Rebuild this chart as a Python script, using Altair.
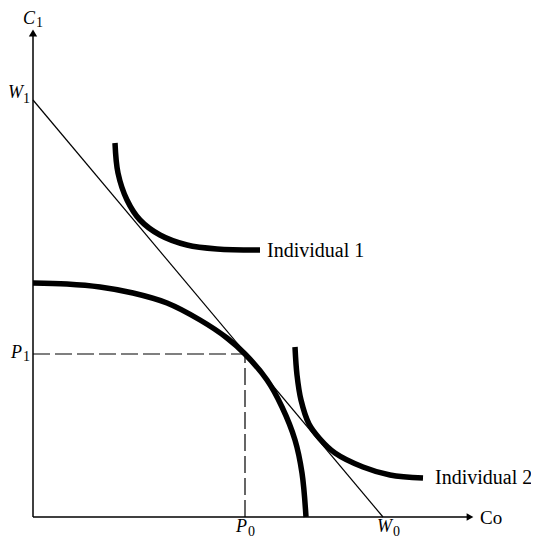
import altair as alt
import pandas as pd

# ---- data (units: x = C0, y = C1, origin at axis intersection) ----
ppf_x = [0, 34, 67, 100, 134, 167, 194, 212, 234, 249, 262, 269, 273]
ppf_y = [234, 233, 230, 224, 214, 197, 179, 163, 137, 110, 77, 44, 0]

ind1_x = [82, 85, 94, 107, 127, 154, 184, 227]
ind1_y = [374, 344, 317, 297, 282, 272, 268, 267]

ind2_x = [262, 264, 268, 276, 287, 302, 330, 357, 390]
ind2_y = [170, 142, 117, 93, 78, 64, 50, 42, 39]

W1 = 417   # budget line intercept on C1 axis
W0 = 350   # budget line intercept on C0 axis
P0 = 212   # tangency C0
P1 = 163   # tangency C1

x_axis_end = 437
y_axis_end = 484

curve_names = ["ppf", "ind1", "ind2"]
label_text = ["Individual 1", "Individual 2"]
label_x = [234, 402]
label_y = [260, 33]

XS = alt.Scale(domain=[-25, 498], nice=False, zero=False)
YS = alt.Scale(domain=[-21, 509], nice=False, zero=False)

rows = []
for name, xs, ys in zip(curve_names, [ppf_x, ind1_x, ind2_x], [ppf_y, ind1_y, ind2_y]):
    for i, (a, b) in enumerate(zip(xs, ys)):
        rows.append({"curve": name, "i": i, "x": a, "y": b})
curves_df = pd.DataFrame(rows)

curves = alt.Chart(curves_df).mark_line(
    color="black", strokeWidth=5.5, interpolate="catmull-rom", strokeCap="butt"
).encode(
    x=alt.X("x:Q", scale=XS, axis=None),
    y=alt.Y("y:Q", scale=YS, axis=None),
    detail="curve:N",
    order="i:Q",
)

axes_df = pd.DataFrame({
    "x": [0, 0], "y": [0, 0], "x2": [0, x_axis_end], "y2": [y_axis_end, 0]
})
axes = alt.Chart(axes_df).mark_rule(color="black", strokeWidth=1.5).encode(
    x=alt.X("x:Q", scale=XS, axis=None), y=alt.Y("y:Q", scale=YS, axis=None),
    x2="x2:Q", y2="y2:Q",
)

budget_df = pd.DataFrame({"x": [0], "y": [W1], "x2": [W0], "y2": [0]})
budget = alt.Chart(budget_df).mark_rule(color="black", strokeWidth=1.2).encode(
    x=alt.X("x:Q", scale=XS, axis=None), y=alt.Y("y:Q", scale=YS, axis=None),
    x2="x2:Q", y2="y2:Q",
)

dash_df = pd.DataFrame({"x": [0, P0], "y": [P1, 0], "x2": [P0, P0], "y2": [P1, P1]})
dashed = alt.Chart(dash_df).mark_rule(
    color="black", strokeWidth=1.2, strokeDash=[17, 5]
).encode(
    x=alt.X("x:Q", scale=XS, axis=None), y=alt.Y("y:Q", scale=YS, axis=None),
    x2="x2:Q", y2="y2:Q",
)

arrow_up = alt.Chart(pd.DataFrame({"x": [0], "y": [y_axis_end]})).mark_point(
    shape="triangle-up", filled=True, size=70, color="black", opacity=1
).encode(x=alt.X("x:Q", scale=XS, axis=None), y=alt.Y("y:Q", scale=YS, axis=None))

arrow_right = alt.Chart(pd.DataFrame({"x": [x_axis_end], "y": [0]})).mark_point(
    shape="triangle-right", filled=True, size=60, color="black", opacity=1
).encode(x=alt.X("x:Q", scale=XS, axis=None), y=alt.Y("y:Q", scale=YS, axis=None))

# main letters (italic), right aligned
main_df = pd.DataFrame({
    "t": ["C", "W", "P", "P", "W"],
    "x": [2, -10, -11, 214, 359],
    "y": [493, 419, 159, -15, -15],
})
main_txt = alt.Chart(main_df).mark_text(
    font="Liberation Serif", fontStyle="italic", fontSize=18, align="right",
    baseline="alphabetic", color="black"
).encode(
    x=alt.X("x:Q", scale=XS, axis=None), y=alt.Y("y:Q", scale=YS, axis=None), text="t:N"
)

sub_df = pd.DataFrame({
    "t": ["1", "1", "1", "0", "0"],
    "x": [3, -10, -10, 215, 360],
    "y": [490, 414, 156, -19, -19],
})
sub_txt = alt.Chart(sub_df).mark_text(
    font="Liberation Serif", fontSize=14, align="left",
    baseline="alphabetic", color="black"
).encode(
    x=alt.X("x:Q", scale=XS, axis=None), y=alt.Y("y:Q", scale=YS, axis=None), text="t:N"
)

co_txt = alt.Chart(pd.DataFrame({"t": ["Co"], "x": [447], "y": [-7]})).mark_text(
    font="Liberation Serif", fontSize=19, align="left", baseline="alphabetic", color="black"
).encode(
    x=alt.X("x:Q", scale=XS, axis=None), y=alt.Y("y:Q", scale=YS, axis=None), text="t:N"
)

ind_txt = alt.Chart(pd.DataFrame({"t": label_text, "x": label_x, "y": label_y})).mark_text(
    font="Liberation Serif", fontSize=20, align="left", baseline="alphabetic", color="black"
).encode(
    x=alt.X("x:Q", scale=XS, axis=None), y=alt.Y("y:Q", scale=YS, axis=None), text="t:N"
)

chart = alt.layer(
    dashed, axes, budget, curves, arrow_up, arrow_right, main_txt, sub_txt, co_txt, ind_txt
).properties(
    width=523, height=530, autosize=alt.AutoSizeParams(type="none"), padding=0,
    background="white"
).configure_view(strokeWidth=0)

chart.save("out.html", embed_options={"renderer": "svg", "actions": False})
